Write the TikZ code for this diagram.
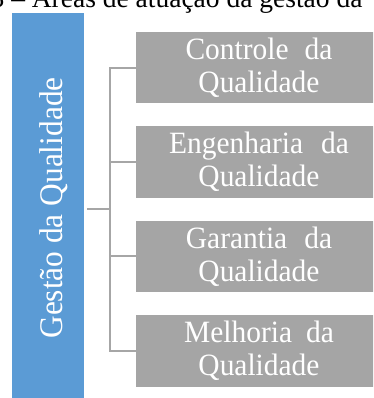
\documentclass[tikz,border=0pt]{standalone}
\usepackage{fontspec}
\setmainfont{Liberation Serif}
\newfontfamily\areafont[FakeStretch=0.95]{Liberation Serif}
\usetikzlibrary{positioning}
\definecolor{qblue}{HTML}{5B9BD5}
\definecolor{qgray}{HTML}{A5A5A5}
\definecolor{qline}{HTML}{A6A6A6}

\begin{document}
\begin{tikzpicture}[x=1pt, y=-1pt,
  area/.style={fill=qgray, text=white, minimum width=246pt, minimum height=71.5pt, inner sep=0pt, align=center, font=\areafont\fontsize{31}{33}\selectfont},
  link/.style={draw=qline, line width=2pt}]
  \useasboundingbox (0,0) rectangle (373,398);
  \clip (0,0) rectangle (373,398);
  \node (titulo) [anchor=base east, font=\fontsize{27.5}{33}\selectfont] at (366,8) {3 -- Áreas de atuação da gestão da};
  \node (gestao) [rotate=90, fill=qblue, text=white, minimum width=390pt, minimum height=72pt, inner sep=0pt, text height=28pt, text depth=0pt, font=\areafont\fontsize{33}{36}\selectfont] at (48,208) {Gestão da Qualidade};
  \node (ctrl) [area] at (259,67.6) {Controle\hspace{16pt}da\\Qualidade};
  \node (eng) [area, below=22.5pt of ctrl] {Engenharia\hspace{18pt}da\\Qualidade};
  \node (gar) [area, below=22.5pt of eng] {Garantia\hspace{17pt}da\\Qualidade};
  \node (melh) [area, below=22.5pt of gar] {Melhoria\hspace{14pt}da\\Qualidade};
  \coordinate (gq) at ([xshift=3pt]gestao.south);
  \coordinate (hub) at (110,209);
  \draw[link] (gq |- hub) -- (hub);
  \draw[link] (ctrl.west) -| (hub) |- (melh.west);
  \draw[link] (eng.west) -- (eng.west -| hub);
  \draw[link] (gar.west) -- (gar.west -| hub);
\end{tikzpicture}
\end{document}
